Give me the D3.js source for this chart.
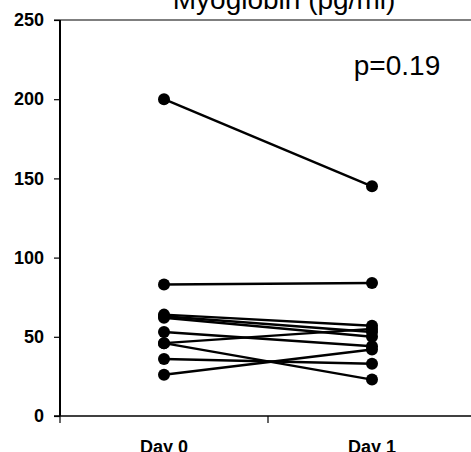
<!DOCTYPE html>
<html>
<head>
<meta charset="utf-8">
<script src="https://cdn.jsdelivr.net/npm/d3@7"></script>
<style>
  html, body { margin: 0; padding: 0; background: #fff; }
  svg { display: block; }
</style>
</head>
<body>
<script>
const categories = ["Day 0", "Day 1"];
const day0 = [200, 83, 64, 63, 62, 53, 46, 46, 36, 26];
const day1 = [145, 84, 57, 53, 50, 44, 55, 23, 33, 42];
const yTicks = [0, 50, 100, 150, 200, 250];
const title = "Myoglobin (pg/ml)";
const pLabel = "p=0.19";

const W = 471, H = 452;
const svg = d3.select("body").append("svg").attr("width", W).attr("height", H);

const x = d3.scaleBand().domain(categories).range([60, 476]);
const y = d3.scaleLinear().domain([0, 250]).range([416, 20]);

// top border
svg.append("line").attr("x1", 54).attr("x2", W).attr("y1", y(250)).attr("y2", y(250))
  .attr("stroke", "#000").attr("stroke-width", 1.2);

// y axis
const yAxis = svg.append("g").attr("transform", "translate(60,0)")
  .call(d3.axisLeft(y).tickValues(yTicks).tickSize(6).tickPadding(10));
yAxis.select(".domain").attr("stroke-width", 2).attr("d", `M0,${y(250)}V${y(0)}`);
yAxis.selectAll(".tick line").attr("stroke-width", 1.2);
yAxis.selectAll("text").attr("font-family", "Liberation Sans, Arial, sans-serif")
  .attr("font-weight", "bold").attr("font-size", 18).attr("fill", "#000");

// x axis
const xAxis = svg.append("g").attr("transform", `translate(0,${y(0)})`)
  .call(d3.axisBottom(x).tickSize(0).tickPadding(24));
xAxis.select(".domain").attr("stroke-width", 1.5).attr("d", `M54,0H${W}`);
xAxis.selectAll("text").attr("font-family", "Liberation Sans, Arial, sans-serif")
  .attr("font-weight", "bold").attr("font-size", 18).attr("fill", "#000");
// category boundary ticks
const bounds = [x(categories[0]), x(categories[1]), x(categories[1]) + x.bandwidth()];
xAxis.selectAll(".bt").data(bounds).enter().append("line")
  .attr("x1", d => d).attr("x2", d => d).attr("y1", 0).attr("y2", 7)
  .attr("stroke", "#000").attr("stroke-width", 1.2);

const cx = c => x(c) + x.bandwidth() / 2;

const pairs = day0.map((v, i) => [v, day1[i]]);
svg.append("g").selectAll("line").data(pairs).enter().append("line")
  .attr("x1", cx(categories[0])).attr("x2", cx(categories[1]))
  .attr("y1", d => y(d[0])).attr("y2", d => y(d[1]))
  .attr("stroke", "#000").attr("stroke-width", 2.4);

const pts = [];
pairs.forEach(d => { pts.push([categories[0], d[0]]); pts.push([categories[1], d[1]]); });
svg.append("g").selectAll("circle").data(pts).enter().append("circle")
  .attr("cx", d => cx(d[0])).attr("cy", d => y(d[1])).attr("r", 6).attr("fill", "#000");

svg.append("text").attr("x", 284).attr("y", 9).attr("text-anchor", "middle")
  .attr("font-family", "Liberation Sans, Arial, sans-serif").attr("font-size", 28)
  .text(title);

svg.append("text").attr("x", 397).attr("y", 75).attr("text-anchor", "middle")
  .attr("font-family", "Liberation Sans, Arial, sans-serif").attr("font-size", 28)
  .text(pLabel);
</script>
</body>
</html>
